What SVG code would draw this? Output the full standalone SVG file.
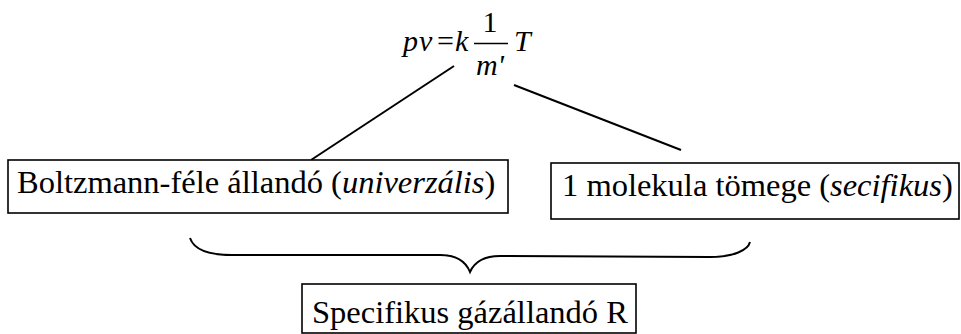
<svg xmlns="http://www.w3.org/2000/svg" width="961" height="334" viewBox="0 0 961 334" font-family="Liberation Serif, Times New Roman, serif">
<style>
.box{fill:#fff;stroke:#000;stroke-width:1.6}
.t{font-size:32.5px;fill:#000}
.fm{font-size:30px;fill:#000}
.f{font-size:30px;font-style:italic;fill:#000}
.c{fill:none;stroke:#000;stroke-width:2}
</style>
<rect width="961" height="334" fill="#fff"/>
<g id="formula">
<text class="f" x="403" y="51">p</text>
<text class="f" x="419" y="51">v</text>
<text class="fm" x="437" y="51">=</text>
<text class="f" x="455" y="51">k</text>
<text class="fm" x="490" y="32" text-anchor="middle">1</text>
<line x1="474" y1="43.5" x2="508" y2="43.5" stroke="#000" stroke-width="1.5"/>
<text class="f" x="490" y="75" text-anchor="middle">m'</text>
<text class="f" x="514" y="51">T</text>
</g>
<g id="connectors">
<line class="c" x1="311" y1="160" x2="454" y2="66"/>
<line class="c" x1="514" y1="85" x2="681" y2="150"/>
<path class="c" d="M190,238 C194,250 210,255 232,255 L440,255 C458,255 466,262 470,272 C474,263 482,256 500,256 L710,257 C734,257 748,250 750,242"/>
</g>
<g id="boltzmann">
<rect class="box" x="8" y="160" width="500" height="53"/>
<text class="t" x="17" y="193">Boltzmann-féle állandó (<tspan font-style="italic">univerzális</tspan>)</text>
</g>
<g id="molekula">
<rect class="box" x="551" y="163" width="408" height="56"/>
<text class="t" x="562" y="196">1 molekula tömege (<tspan font-style="italic">secifikus</tspan>)</text>
</g>
<g id="specifikus">
<rect class="box" x="302" y="284" width="334" height="49"/>
<text class="t" x="312" y="323">Specifikus gázállandó R</text>
</g>
</svg>
